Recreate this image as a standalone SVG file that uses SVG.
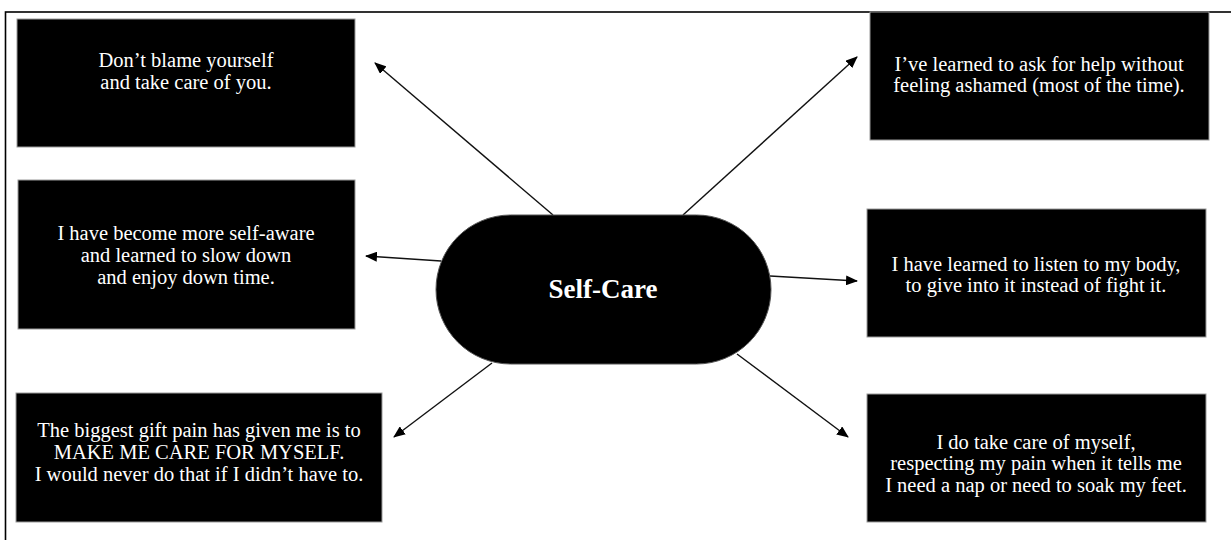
<svg xmlns="http://www.w3.org/2000/svg" width="1231" height="540" viewBox="0 0 1231 540">
  <style>
    .box { fill: #000; stroke: #9a9a9a; stroke-width: 1; }
    .hub { fill: #000; stroke: #555; stroke-width: 1; }
    .txt { fill: #fff; font-family: "Liberation Serif", "Times New Roman", serif; font-size: 20.5px; text-anchor: middle; }
    .hubtxt { fill: #fff; font-family: "Liberation Serif", "Times New Roman", serif; font-size: 27px; font-weight: bold; text-anchor: middle; }
    .link { stroke: #111; stroke-width: 1.4; fill: none; marker-end: url(#arrow); }
  </style>
  <defs>
    <marker id="arrow" viewBox="0 0 12 10" refX="11" refY="5" markerWidth="12" markerHeight="10" markerUnits="userSpaceOnUse" orient="auto">
      <path d="M0,0 L12,5 L0,10 Z" fill="#000"/>
    </marker>
  </defs>

  <rect width="1231" height="540" fill="#fff"/>
  <!-- page frame (left and top edges visible) -->
  <rect x="5.5" y="12" width="1260" height="560" fill="none" stroke="#000" stroke-width="1.6"/>

  <g id="connectors">
    <line class="link" x1="553" y1="215" x2="375" y2="63"/>
    <line class="link" x1="683" y1="215" x2="857" y2="57"/>
    <line class="link" x1="441" y1="261" x2="366" y2="256"/>
    <line class="link" x1="770" y1="276" x2="857" y2="281"/>
    <line class="link" x1="492" y1="363" x2="394" y2="437"/>
    <line class="link" x1="737" y1="354" x2="848" y2="437"/>
  </g>

  <g id="self-care">
    <rect class="hub" x="436" y="215" width="335" height="149" rx="74.5" ry="74.5"/>
    <text class="hubtxt" x="603" y="298">Self-Care</text>
  </g>

  <g id="blame">
    <rect class="box" x="17" y="19" width="338" height="128"/>
    <text class="txt" x="186" y="67">Don’t blame yourself</text>
    <text class="txt" x="186" y="89">and take care of you.</text>
  </g>

  <g id="self-aware">
    <rect class="box" x="18" y="180" width="337" height="149"/>
    <text class="txt" x="186" y="240">I have become more self-aware</text>
    <text class="txt" x="186" y="262">and learned to slow down</text>
    <text class="txt" x="186" y="284">and enjoy down time.</text>
  </g>

  <g id="biggest-gift">
    <rect class="box" x="16" y="393" width="366" height="129"/>
    <text class="txt" x="199" y="437">The biggest gift pain has given me is to</text>
    <text class="txt" x="199" y="459">MAKE ME CARE FOR MYSELF.</text>
    <text class="txt" x="199" y="481">I would never do that if I didn’t have to.</text>
  </g>

  <g id="ask-help">
    <rect class="box" x="870" y="12" width="339" height="128"/>
    <text class="txt" x="1039" y="71">I’ve learned to ask for help without</text>
    <text class="txt" x="1039" y="92">feeling ashamed (most of the time).</text>
  </g>

  <g id="listen-body">
    <rect class="box" x="867" y="209" width="339" height="128"/>
    <text class="txt" x="1036" y="271">I have learned to listen to my body,</text>
    <text class="txt" x="1036" y="292">to give into it instead of fight it.</text>
  </g>

  <g id="take-care">
    <rect class="box" x="867" y="394" width="339" height="128"/>
    <text class="txt" x="1036" y="449">I do take care of myself,</text>
    <text class="txt" x="1036" y="470">respecting my pain when it tells me</text>
    <text class="txt" x="1036" y="492">I need a nap or need to soak my feet.</text>
  </g>
</svg>
